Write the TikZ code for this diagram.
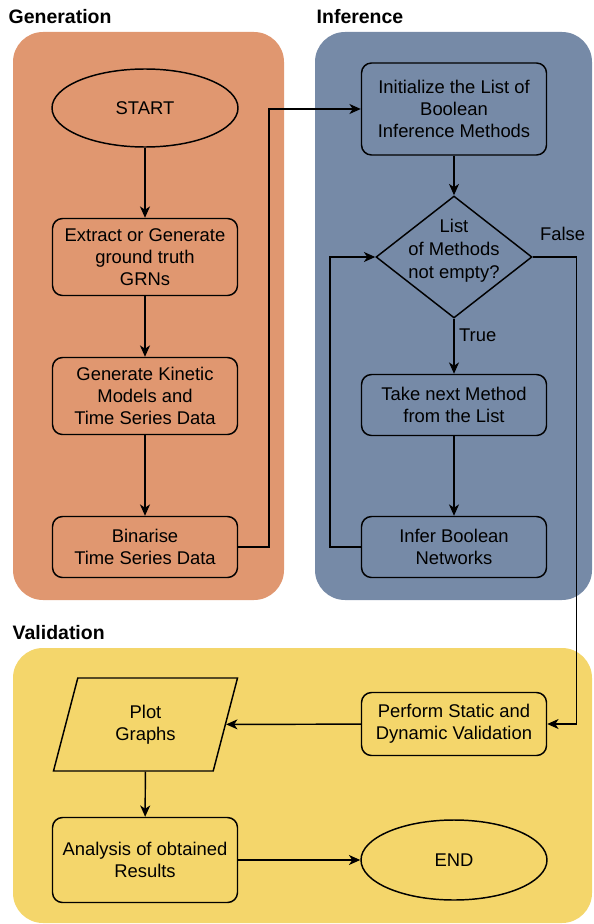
\documentclass[tikz,border=0pt]{standalone}
\usepackage{fontspec}
\setmainfont{Liberation Sans}
\usepackage{tikz}
\usetikzlibrary{arrows.meta,positioning,calc,shapes.geometric}
\definecolor{genfill}{RGB}{224,151,112}
\definecolor{inffill}{RGB}{118,138,167}
\definecolor{valfill}{RGB}{244,214,107}
\tikzset{
  >=Stealth,
  every picture/.append style={line width=1.1pt},
  every node/.append style={font=\fontsize{13.8}{16.5}\selectfont},
}
\tikzset{
  box/.style={draw, rounded corners=7.5pt, align=center, inner sep=3pt,
              minimum width=138.75pt, minimum height=57.75pt},
  arrow/.style={-{Stealth[length=8.5pt,width=7.5pt,inset=2.5pt]}},
  lane/.style={draw=none, rounded corners=22.5pt}
}

\begin{document}
\begin{tikzpicture}[
  x=0.75pt, y=-0.75pt,
  term/.style={ellipse, draw, minimum width=139.5pt, minimum height=58.5pt, align=center},
  cond/.style={diamond, draw, minimum width=117pt, minimum height=91.5pt, inner sep=0pt},
  io/.style={trapezium, trapezium left angle=75.5, trapezium right angle=104.5,
             trapezium stretches=true, draw, minimum width=138.75pt, minimum height=69.75pt, align=center},
  ttl/.style={font=\fontsize{14.6}{17}\selectfont\bfseries, inner sep=0pt, anchor=west},
  lbl/.style={font=\fontsize{13.8}{16.5}\selectfont}
]
\useasboundingbox (0,0) rectangle (593,924);

% ============= Lanes =============
\fill[genfill, lane] (13,32) rectangle (284,600);
\fill[inffill, lane] (315,32) rectangle (592,600);
\fill[valfill, lane] (13,648) rectangle (592,923);
\node[ttl] (gentitle) at (8,17) {Generation};
\node[ttl] (inftitle) at (316,17) {Inference};
\node[ttl] (valtitle) at (12,633) {Validation};

% ============= Generation =============
\node[term] (start) at (145,108) {START};
\node[box] (extract) at (145,257) {Extract or Generate\\ground truth\\GRNs};
\node[box] (kinetic) at (145,396) {Generate Kinetic\\Models and\\Time Series Data};
\node[box, minimum height=45.75pt] (binarise) at (145,547) {Binarise\\Time Series Data};

\draw[arrow] (start) -- (extract);
\draw[arrow] (extract) -- (kinetic);
\draw[arrow] (kinetic) -- (binarise);

% ============= Inference =============
\node[box, minimum height=69pt] (init) at (454,109) {Initialize the List of\\Boolean\\Inference Methods};
\node[cond] (check) at (454,257)
  {\raisebox{1pt}[0pt][0pt]{\makebox[0pt]{\renewcommand{\arraystretch}{1.05}%
   \begin{tabular}{@{}c@{}}List\\of Methods\\not empty?\end{tabular}}}};
\node[box, minimum height=45.75pt] (takenext) at (454,405) {Take next Method\\from the List};
\node[box, minimum height=45.75pt] (infer) at (454,547) {Infer Boolean\\Networks};

\draw[arrow] (binarise.east) -- ++(23pt,0) |- (init.west);
\draw[arrow] (init) -- (check);
\draw[arrow] (check) -- node[lbl, right, pos=0.3] {True} (takenext);
\draw[arrow] (takenext) -- (infer);
\draw[arrow] (infer.west) -- ++(-23.25pt,0) |- (check.west);

% ============= Validation =============
\node[box, minimum height=47.25pt] (perform) at (454,724) {Perform Static and\\Dynamic Validation};
\node[io] (plot) at (145.5,724.5) {Plot\\Graphs};
\node[box, minimum height=63.75pt] (analysis) at (145,860) {Analysis of obtained\\Results};
\node[term, minimum height=60pt] (finish) at (454,860) {END};

\draw[arrow] (check.east) -- node[lbl, above right, pos=0.05, yshift=8pt] {False} ++(33pt,0) |- (perform.east);
\draw[arrow] (perform) -- (plot);
\draw[arrow] (plot) -- (analysis);
\draw[arrow] (analysis) -- (finish);

\end{tikzpicture}
\end{document}
